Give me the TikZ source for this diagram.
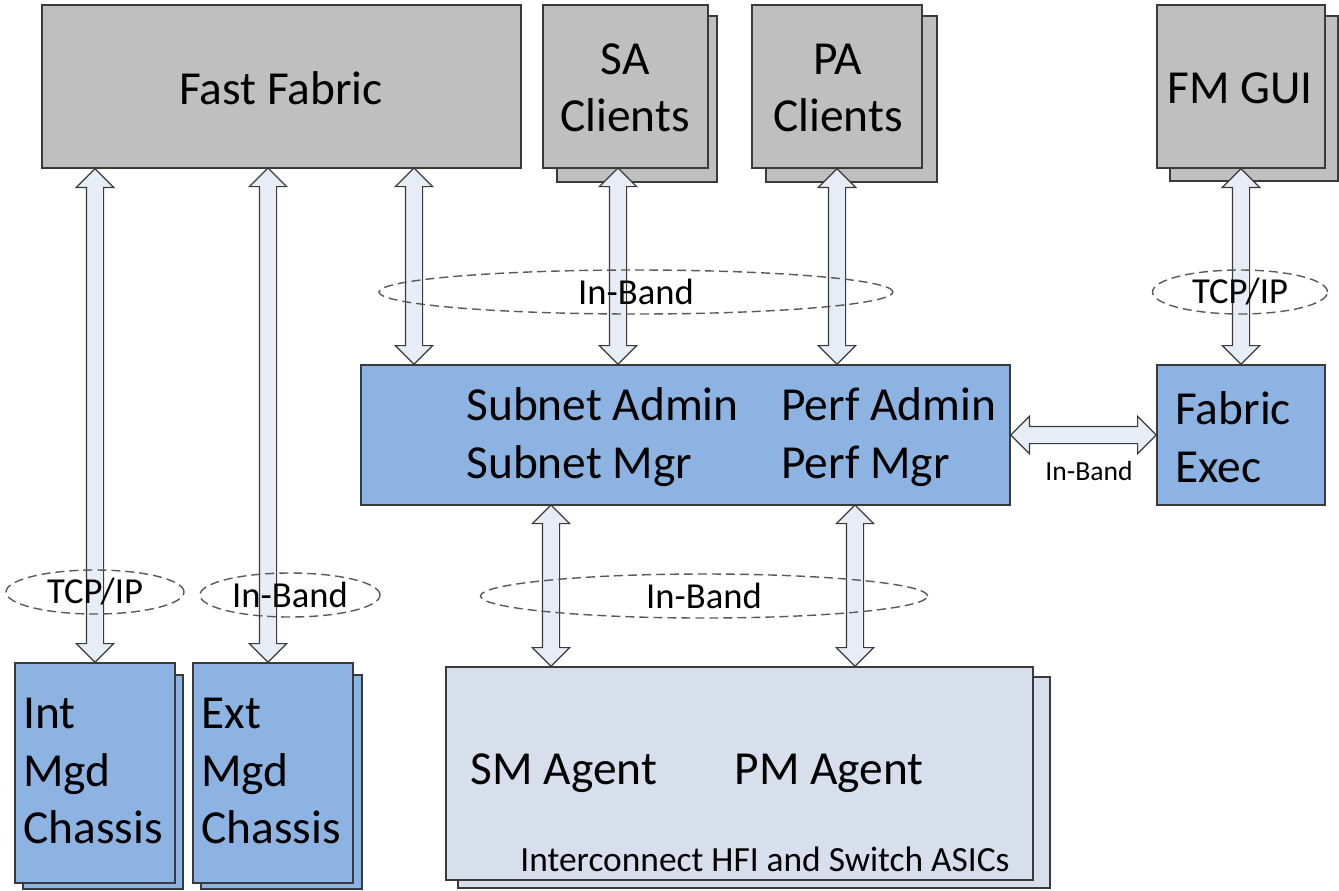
\documentclass[tikz,border=0pt]{standalone}
\usepackage{fontspec}
\setmainfont{Carlito}
\usetikzlibrary{calc,fit,shapes.arrows,shapes.geometric}

\definecolor{boxgray}{HTML}{BFBFBF}
\definecolor{mgrblue}{HTML}{8DB3E2}
\definecolor{asicblue}{HTML}{D6DFEB}
\definecolor{linkfill}{HTML}{E6EDF7}
\definecolor{edge}{HTML}{3A3A3A}

% double block arrow between two points
\def\dblink(#1)(#2){\path let \p1=(#1), \p2=(#2), \n1={veclen(\x2-\x1,\y2-\y1)}, \n2={atan2(\y2-\y1,\x2-\x1)} in node[link, minimum height=\n1, rotate=\n2] at ($(\p1)!0.5!(\p2)$) {};}

\tikzset{
  box/.style={draw=edge, line width=0.8pt, inner sep=0pt},
  graybox/.style={box, fill=boxgray},
  bluebox/.style={box, fill=mgrblue},
  asicbox/.style={box, fill=asicblue},
  big/.style={font=\fontsize{23.7}{28.7}\selectfont, inner sep=0pt},
  link/.style={double arrow, draw=edge, fill=linkfill, line width=0.6pt, inner xsep=0pt, inner ysep=4pt, double arrow head extend=5pt},
  band/.style={ellipse, draw=black!65, line width=0.7pt, dash pattern=on 4.5pt off 2.5pt, inner sep=0pt, font=\fontsize{18.3}{21}\selectfont}
}

\begin{document}
\begin{tikzpicture}[x=0.5pt, y=-0.5pt]
		\useasboundingbox (0,0) rectangle (1339,890);
		
		%%%%% clients %%%%%
		\node[graybox, fit={(557,16) (717,182)}] (saback) {};
		\node[graybox, fit={(766,16) (937,182)}] (paback) {};
		\node[graybox, fit={(1170,16) (1338,181)}] (fmback) {};
		
		\node[graybox, fit={(42,5) (521,168)}] (ff) {};
		\node[graybox, fit={(543,5) (708,168)}] (sa) {};
		\node[graybox, fit={(752,5) (922,168)}] (pa) {};
		\node[graybox, fit={(1157,5) (1325,168)}] (fm) {};
		\node[big] (fftext) at (281,88) {Fast Fabric};
		\node[big, align=center] (satext) at (625,88) {SA\\Clients};
		\node[big, align=center] (patext) at (838,88) {PA\\Clients};
		\node[big] (fmtext) at (1240,88) {FM GUI};
		
		%%%%% managers %%%%%
		\node[bluebox, fit={(361,365) (1010,505)}] (sub) {};
		\node[big, anchor=west, align=left] (smtext) at (466,437) {Subnet Admin\\Subnet Mgr};
		\node[big, anchor=west, align=left] (pmtext) at (781,437) {Perf Admin\\Perf Mgr};
		\node[bluebox, fit={(1157,365) (1325,505)}] (fe) {};
		\node[big, anchor=west, align=left] (fetext) at (1175,437) {Fabric\\Exec};
		
		%%%%% chassis and asics %%%%%
		\node[bluebox, fit={(23,675) (183,889)}] (intback) {};
		\node[bluebox, fit={(201,675) (362,889)}] (extback) {};
		\node[asicbox, fit={(458,677) (1050,888)}] (asicback) {};
		
		\node[bluebox, fit={(15,663) (175,883)}] (int) {};
		\node[big, anchor=west, align=left] (inttext) at (23,771) {Int\\Mgd\\Chassis};
		\node[bluebox, fit={(193,663) (353,883)}] (ext) {};
		\node[big, anchor=west, align=left] (exttext) at (201,771) {Ext\\Mgd\\Chassis};
		\node[asicbox, fit={(446,667) (1033,880)}] (asic) {};
		\node[big] (smagent) at (564,773) {SM Agent};
		\node[big] (pmagent) at (829,773) {PM Agent};
		\node[font=\fontsize{17.7}{20}\selectfont, inner sep=0pt] (asictext) at (765,859) {Interconnect HFI and Switch ASICs};
		
		%%%%% links %%%%%
		\coordinate (ffport) at (414,168);
		\coordinate (extport) at (268,168);
		\coordinate (saport) at (618,168);
		\coordinate (smport) at (551,505);
		\coordinate (pmport) at (855,505);
		
		\dblink(ff.south -| int.north)(int.north)
		\dblink(extport)(extport |- ext.north)
		\dblink(ffport)(ffport |- sub.north)
		\dblink(saport)(saport |- sub.north)
		\dblink(pa.south)(pa.south |- sub.north)
		\dblink(fm.south)(fe.north)
		\dblink(smport)(smport |- asic.north)
		\dblink(pmport)(pmport |- asic.north)
		\dblink(sub.east)(fe.west)
		\node[font=\fontsize{13.8}{16}\selectfont, inner sep=0pt] (felabel) at (1089,471) {In-Band};
		
		%%%%% bands %%%%%
		\node[band, minimum width=257pt, minimum height=22pt] (topband) at (636,292) {In-Band};
		\node[band, minimum width=87.5pt, minimum height=22pt] (guiband) at (1240,292) {TCP/IP};
		\node[band, minimum width=89pt, minimum height=22pt] (intband) at (95,592) {TCP/IP};
		\node[band, minimum width=90pt, minimum height=22pt] (extband) at (290,595) {In-Band};
		\node[band, minimum width=223.5pt, minimum height=22pt] (asicband) at (704,596) {In-Band};
		
	\end{tikzpicture}
\end{document}
